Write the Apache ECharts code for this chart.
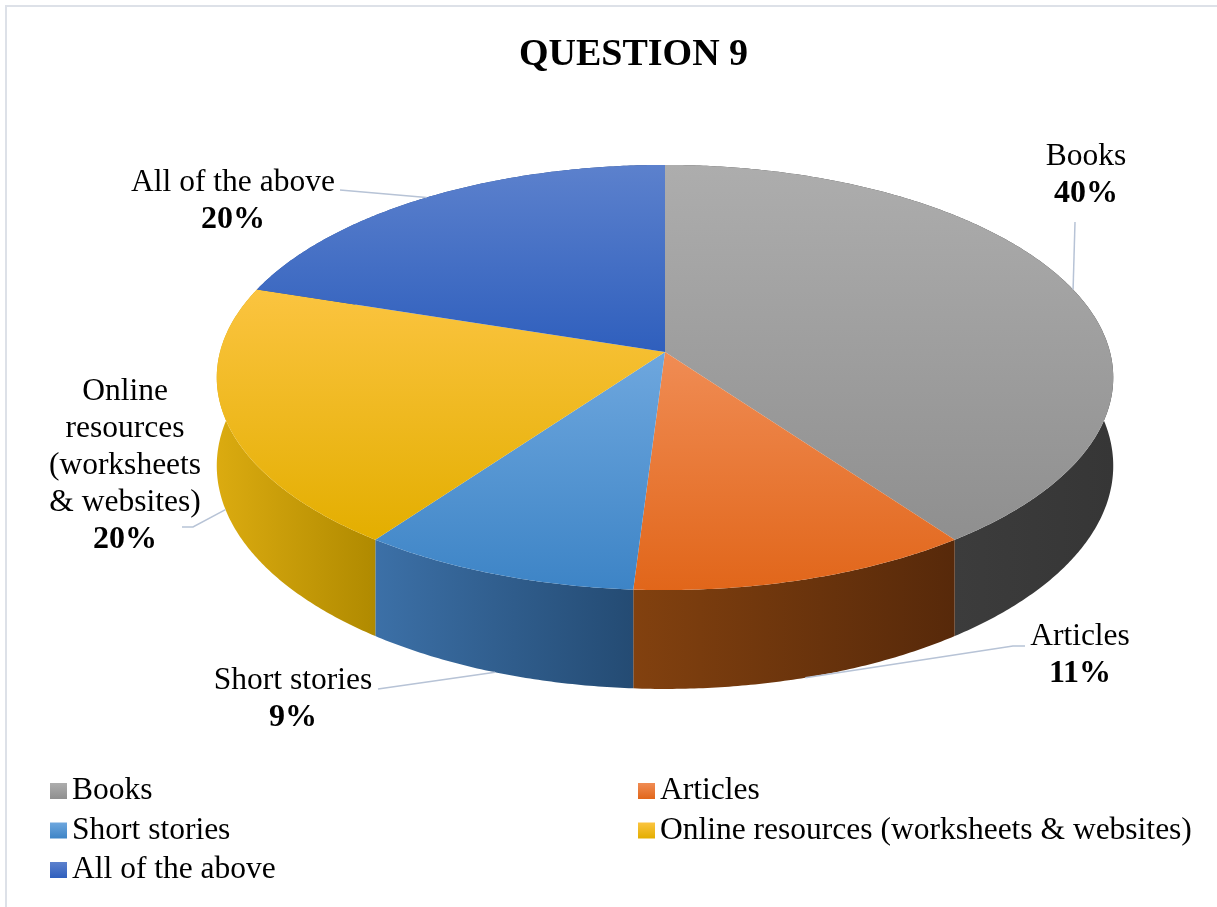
<!DOCTYPE html>
<html>
<head>
<meta charset="utf-8">
<title>QUESTION 9</title>
<script src="https://cdn.jsdelivr.net/npm/echarts@6.0.0/dist/echarts.min.js"></script>
<style>
  html, body { margin: 0; padding: 0; background: #ffffff; }
  #chart { width: 1217px; height: 907px; }
</style>
</head>
<body>
<div id="chart"></div>
<script>
// Survey answers, clockwise from twelve o'clock
const categories = ['Books', 'Articles', 'Short stories', 'Online resources (worksheets & websites)', 'All of the above'];
const shares = [40, 11, 9, 20, 20];
// Wrapped text for the callouts beside the pie
const labelNames = ['Books', 'Articles', 'Short stories', 'Online\nresources\n(worksheets\n& websites)', 'All of the above'];

// Styling: top-face gradients (top -> bottom) and side-wall gradients (left -> right)
const topColors = [
  ['#adadad', '#8f8f8f'],
  ['#f08c54', '#e1661a'],
  ['#6ea7de', '#3d84c6'],
  ['#fbc440', '#e3ae00'],
  ['#5c81cd', '#2f5fbd']
];
const sideColors = [
  ['#474747', '#363636'],
  ['#82410f', '#57290a'],
  ['#3c70a7', '#244b73'],
  ['#dbab10', '#b08a00'],
  ['#2c55a3', '#1f3f7c']
];

// Callout layout: first-line centre of the text and the leader-line bend points
const calloutLayout = [
  { x: 1086, y: 157, bend: [[1075, 222]] },
  { x: 1080, y: 637, bend: [[1013, 646], [1025, 646]] },
  { x: 293, y: 681, bend: [[378, 689]] },
  { x: 125, y: 392, bend: [[193, 527], [182, 527]] },
  { x: 233, y: 183, bend: [[340, 190]] }
];

// Projection of the tilted disc (light perspective)
const CX = 665, CY = 352, RX = 445, RY = 209.5, PERSP = 0.12, DEPTH = 87;
const LINE_H = 37;
const FONT = '"Liberation Serif", "Times New Roman", serif';

const total = shares.reduce((a, b) => a + b, 0);
const startAngles = [];
(function () {
  let acc = 0;
  shares.forEach(v => { startAngles.push(acc / total * Math.PI * 2); acc += v; });
})();

function project(theta, drop) {
  const u = Math.sin(theta), v = Math.cos(theta);
  const f = 1 / (1 + PERSP * v);
  return [CX + RX * u * f, CY - RY * v * f + drop * f];
}

function arc(a, b, drop) {
  const pts = [];
  const n = Math.max(2, Math.ceil((b - a) / (Math.PI / 360)));
  for (let i = 0; i <= n; i++) pts.push(project(a + (b - a) * i / n, drop));
  return pts;
}

function grad(vertical, c) {
  return new echarts.graphic.LinearGradient(0, 0, vertical ? 0 : 1, vertical ? 1 : 0, [
    { offset: 0, color: c[0] }, { offset: 1, color: c[1] }
  ]);
}

function renderSlice(params, api) {
  const i = params.dataIndex;
  const value = api.value(0);
  const a = startAngles[i];
  const b = a + value / total * Math.PI * 2;
  const topArc = arc(a, b, 0);
  const bottomArc = arc(a, b, DEPTH).reverse();

  const children = [];
  // outer wall
  children.push({
    type: 'polygon', z2: 1,
    shape: { points: topArc.concat(bottomArc) },
    style: { fill: grad(false, sideColors[i]) }
  });
  // top face
  children.push({
    type: 'polygon', z2: 10,
    shape: { points: [[CX, CY]].concat(topArc) },
    style: { fill: grad(true, topColors[i]) }
  });

  // leader line: from the mid-angle rim point (bottom rim for front slices)
  const mid = (a + b) / 2;
  const anchor = project(mid, Math.cos(mid) < 0 ? DEPTH : 0);
  const lay = calloutLayout[i];
  children.push({
    type: 'polyline', z2: 20,
    shape: { points: [anchor].concat(lay.bend) },
    style: { stroke: '#b7c3d6', lineWidth: 1.5, fill: null }
  });

  // callout text: category lines, then the bold percentage below them
  const name = labelNames[i];
  const nLines = name.split('\n').length;
  children.push({
    type: 'text', z2: 30,
    x: lay.x, y: lay.y - LINE_H / 2,
    style: {
      text: name, fill: '#000000', fontFamily: FONT, fontSize: 31.5,
      align: 'center', verticalAlign: 'top', lineHeight: LINE_H
    }
  });
  children.push({
    type: 'text', z2: 30,
    x: lay.x, y: lay.y + nLines * LINE_H,
    style: {
      text: Math.round(value / total * 100) + '%', fill: '#000000', fontFamily: FONT,
      fontSize: 32, fontWeight: 'bold', align: 'center', verticalAlign: 'middle'
    }
  });

  return { type: 'group', children: children };
}

const chart = echarts.init(document.getElementById('chart'), null, { renderer: 'canvas' });

const legendBase = {
  orient: 'vertical',
  padding: 0,
  itemWidth: 17,
  itemHeight: 16,
  itemGap: 3.5,
  icon: 'rect',
  selectedMode: false,
  textStyle: { fontFamily: FONT, fontSize: 31.5, color: '#000000', lineHeight: 36 }
};

chart.setOption({
  animation: false,
  backgroundColor: '#ffffff',
  title: {
    text: 'QUESTION 9',
    left: 519, top: 36, padding: 0,
    textStyle: { fontFamily: FONT, fontSize: 38, fontWeight: 'bold', color: '#000000' }
  },
  legend: [
    Object.assign({}, legendBase, { left: 50, top: 773, data: [categories[0], categories[2], categories[4]] }),
    Object.assign({}, legendBase, { left: 638, top: 773, data: [categories[1], categories[3]] })
  ],
  graphic: [{
    type: 'rect', silent: true, z: -10,
    shape: { x: 6, y: 6, width: 1240, height: 930 },
    style: { fill: null, stroke: '#dde1e8', lineWidth: 2 }
  }],
  series: [
    {
      type: 'custom',
      name: 'QUESTION 9',
      coordinateSystem: 'none',
      silent: true,
      renderItem: renderSlice,
      data: shares.map((v, i) => ({ name: categories[i], value: v }))
    },
    {
      // zero-radius pie that supplies the legend entries
      type: 'pie',
      radius: 0,
      silent: true,
      label: { show: false },
      labelLine: { show: false },
      emphasis: { disabled: true },
      data: shares.map((v, i) => ({
        name: categories[i], value: v,
        itemStyle: { color: grad(true, topColors[i]) }
      }))
    }
  ]
});
</script>
</body>
</html>
